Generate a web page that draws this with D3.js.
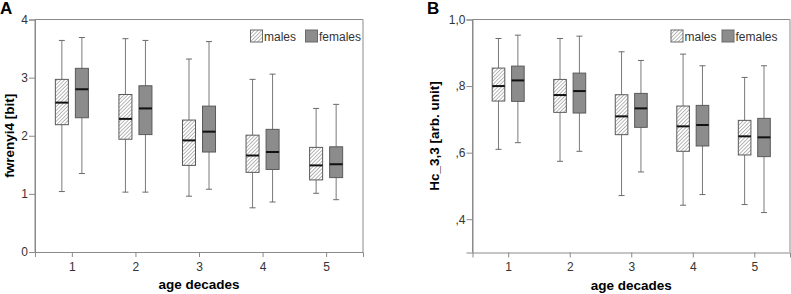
<!DOCTYPE html>
<html>
<head>
<meta charset="utf-8">
<script src="https://cdn.jsdelivr.net/npm/d3@7"></script>
<style>
  body { margin: 0; background: #fff; }
  svg { display: block; font-family: "Liberation Sans", Arial, sans-serif; }
</style>
</head>
<body>
<svg width="791" height="294"></svg>
<script>
// categories
const decades = ["1", "2", "3", "4", "5"];
const groups = ["males", "females"];

// box stats per decade: [lower whisker, Q1, median, Q3, upper whisker]
const fwMales = [
  [1.04, 2.19, 2.57, 2.97, 3.64],
  [1.03, 1.94, 2.29, 2.71, 3.67],
  [0.96, 1.49, 1.92, 2.27, 3.32],
  [0.76, 1.37, 1.66, 2.01, 2.97],
  [1.01, 1.24, 1.49, 1.80, 2.47]
];
const fwFemales = [
  [1.35, 2.31, 2.80, 3.16, 3.69],
  [1.03, 2.02, 2.47, 2.86, 3.64],
  [1.08, 1.72, 2.07, 2.51, 3.62],
  [0.86, 1.42, 1.72, 2.11, 3.06],
  [0.90, 1.28, 1.51, 1.81, 2.54]
];
const hcMales = [
  [0.610, 0.755, 0.800, 0.854, 0.943],
  [0.574, 0.721, 0.773, 0.820, 0.943],
  [0.471, 0.654, 0.709, 0.774, 0.903],
  [0.442, 0.604, 0.679, 0.740, 0.896],
  [0.444, 0.593, 0.649, 0.697, 0.826]
];
const hcFemales = [
  [0.630, 0.754, 0.817, 0.860, 0.953],
  [0.604, 0.719, 0.785, 0.839, 0.950],
  [0.542, 0.676, 0.733, 0.778, 0.877],
  [0.474, 0.620, 0.683, 0.742, 0.861],
  [0.420, 0.588, 0.646, 0.703, 0.861]
];

// axis ticks
const fwTicks = [0, 1, 2, 3, 4];
const fwTickLabels = ["0", "1", "2", "3", "4"];
const hcTicks = [0.4, 0.6, 0.8, 1.0];
const hcTickLabels = [",4", ",6", ",8", "1,0"];

const svg = d3.select("svg");

// hatch pattern for males
const defs = svg.append("defs");
const pat = defs.append("pattern")
  .attr("id", "hatch")
  .attr("patternUnits", "userSpaceOnUse")
  .attr("width", 2.6)
  .attr("height", 2.6)
  .attr("patternTransform", "rotate(45)");
pat.append("rect").attr("width", 2.6).attr("height", 2.6).attr("fill", "#fff");
pat.append("line")
  .attr("x1", 0).attr("y1", 0).attr("x2", 0).attr("y2", 2.6)
  .attr("stroke", "#707070").attr("stroke-width", 1);

const fills = { males: "url(#hatch)", females: "#8c8c8c" };

function drawPanel(p) {
  const g = svg.append("g").attr("transform", `translate(${p.left},${p.top})`);
  const w = p.width, h = p.height;

  const x = d3.scalePoint().domain(decades).range([0, w]).padding(0.58);
  const step = x.step();
  const xs = d3.scaleBand().domain(groups).range([-0.315 * step, 0.315 * step]);
  const bw = xs.bandwidth() * 0.65;
  const y = d3.scaleLinear().domain(p.domain).range([h, 0]);

  // frame (top + right)
  g.append("path")
    .attr("d", `M0,0H${w}V${h}`)
    .attr("fill", "none").attr("stroke", "#8a8a8a");

  // axes
  const yAxis = g.append("g")
    .call(d3.axisLeft(y).tickValues(p.ticks).tickFormat((d, i) => p.tickLabels[i]).tickSize(6).tickPadding(1));
  const xAxis = g.append("g")
    .attr("transform", `translate(0,${h})`)
    .call(d3.axisBottom(x).tickSize(5).tickPadding(5));
  [yAxis, xAxis].forEach(a => {
    a.select(".domain").attr("stroke", "#8a8a8a");
    a.selectAll(".tick line").attr("stroke", "#8a8a8a");
    a.selectAll(".tick text").attr("fill", "#333").style("font-size", "12px");
    a.attr("font-family", null);
  });
  // extend left axis line to cover full height
  g.append("line").attr("x1", 0).attr("x2", 0).attr("y1", 0).attr("y2", h).attr("stroke", "#8a8a8a");

  // boxes
  const rows = [];
  decades.forEach((dec, i) => {
    rows.push({ dec, grp: "males", s: p.males[i] });
    rows.push({ dec, grp: "females", s: p.females[i] });
  });
  const box = g.selectAll("g.box").data(rows).enter().append("g")
    .attr("class", "box")
    .attr("transform", d => `translate(${x(d.dec) + xs(d.grp) + xs.bandwidth() / 2},0)`);

  box.append("line")
    .attr("x1", 0).attr("x2", 0)
    .attr("y1", d => y(d.s[0])).attr("y2", d => y(d.s[4]))
    .attr("stroke", "#7a7a7a");
  box.selectAll("line.cap").data(d => [d.s[0], d.s[4]]).enter().append("line")
    .attr("class", "cap")
    .attr("x1", -3).attr("x2", 3)
    .attr("y1", v => y(v)).attr("y2", v => y(v))
    .attr("stroke", "#6a6a6a");
  box.append("rect")
    .attr("x", -bw / 2).attr("width", bw)
    .attr("y", d => y(d.s[3])).attr("height", d => y(d.s[1]) - y(d.s[3]))
    .attr("fill", d => fills[d.grp])
    .attr("stroke", "#5a5a5a");
  box.append("line")
    .attr("x1", -bw / 2).attr("x2", bw / 2)
    .attr("y1", d => y(d.s[2])).attr("y2", d => y(d.s[2]))
    .attr("stroke", "#111").attr("stroke-width", 2);

  // legend
  const leg = g.append("g").attr("transform", `translate(${p.legendX},${p.legendY})`);
  groups.forEach((grp, i) => {
    const row = leg.append("g").attr("transform", `translate(${i * p.legendGap},0)`);
    row.append("rect").attr("width", 12).attr("height", 12)
      .attr("fill", fills[grp]).attr("stroke", "#6a6a6a");
    row.append("text").attr("x", 13.5).attr("y", 10.5)
      .attr("fill", "#333").style("font-size", "12px").text(grp);
  });

  // axis titles
  g.append("text")
    .attr("x", w / 2).attr("y", h + 37)
    .attr("text-anchor", "middle")
    .style("font-size", "13.5px").style("font-weight", "bold")
    .text("age decades");
  g.append("text")
    .attr("transform", `translate(${p.yLabelX},${h / 2}) rotate(-90)`)
    .attr("text-anchor", "middle")
    .attr("dy", "0.35em")
    .style("font-size", "13.5px").style("font-weight", "bold")
    .text(p.yLabel);

  svg.append("text")
    .attr("x", p.letterX).attr("y", 14)
    .style("font-size", "17px").style("font-weight", "bold")
    .text(p.letter);
}

drawPanel({
  left: 35, top: 19.5, width: 328, height: 232.5,
  domain: [0, 4], ticks: fwTicks, tickLabels: fwTickLabels,
  males: fwMales, females: fwFemales,
  legendX: 215.5, legendY: 10.5, legendGap: 55,
  yLabel: "fwrenyi4 [bit]", yLabelX: -26,
  letter: "A", letterX: 0
});

drawPanel({
  left: 472.5, top: 19.5, width: 317.5, height: 233,
  domain: [0.3, 1.0], ticks: hcTicks, tickLabels: hcTickLabels,
  males: hcMales, females: hcFemales,
  legendX: 198.5, legendY: 10.5, legendGap: 51,
  yLabel: "Hc_3,3 [arb. unit]", yLabelX: -38.5,
  letter: "B", letterX: 427
});
</script>
</body>
</html>
